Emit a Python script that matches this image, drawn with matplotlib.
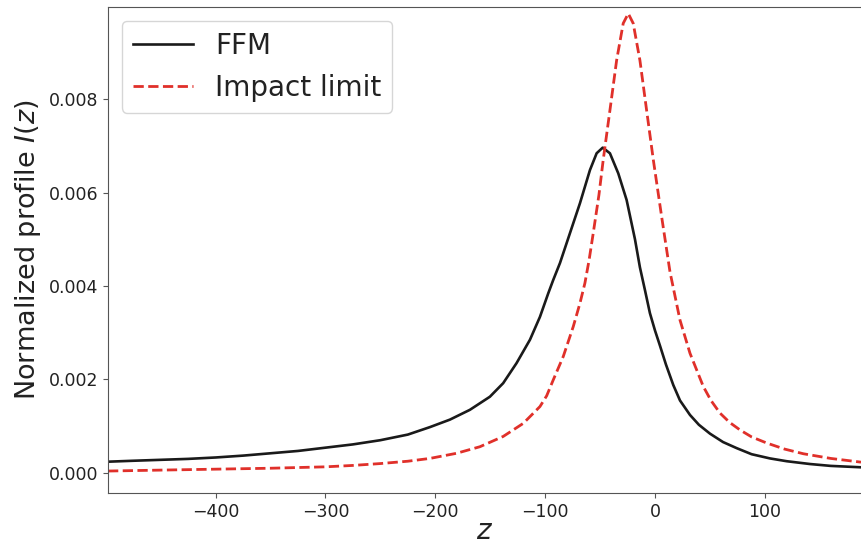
import matplotlib.pyplot as plt
import numpy as np

# values
ffm_z = [-498, -475, -450, -425, -400, -375, -350, -325, -300, -275, -250, -225,
         -204.9, -186.7, -168.5, -150.3, -138.2, -126, -113.8, -104.7, -97.2,
         -92.6, -86.5, -77.4, -68.3, -59.2, -53.1, -47.6, -41, -33.4, -25.8,
         -18.2, -13.7, -9, -4.6, 0, 4.6, 10, 16.7, 22.8, 31.9, 40, 50.1, 62,
         74.4, 88, 104.7, 120, 141.2, 160, 187.6]
ffm_I = [0.00024, 0.00026, 0.00028, 0.0003, 0.00033, 0.00037, 0.00042, 0.00047,
         0.00054, 0.00061, 0.0007, 0.00082, 0.00098, 0.00114, 0.00135, 0.00163,
         0.00192, 0.00235, 0.00285, 0.00334, 0.00384, 0.00413, 0.00449, 0.00513,
         0.00577, 0.00648, 0.00684, 0.00696, 0.00684, 0.00641, 0.00584, 0.005,
         0.0044, 0.0039, 0.00342, 0.00305, 0.00272, 0.00232, 0.00188, 0.00155,
         0.00124, 0.00103, 0.00084, 0.00066, 0.00053, 0.0004, 0.00031, 0.00025,
         0.00019, 0.00015, 0.00012]

imp_z = [-498, -450, -400, -350, -300, -275, -250, -225, -204.9, -180.6, -159.4,
         -138.2, -119.9, -104.7, -98.6, -92.6, -83.5, -74.4, -68.3, -63.8, -60,
         -56.2, -51, -47.1, -41, -34.9, -28.9, -24.3, -19.8, -13.7, -7.6, -1.5,
         6.1, 13.7, 22.8, 31.9, 44, 51, 59.2, 68, 77.4, 88, 101.7, 118, 135.1,
         160, 187.6]
imp_I = [0.00004, 0.00006, 0.00008, 0.0001, 0.00013, 0.00016, 0.0002, 0.00025,
         0.00031, 0.00042, 0.00056, 0.00078, 0.00106, 0.00142, 0.00165, 0.00199,
         0.00249, 0.00313, 0.00363, 0.00406, 0.00455, 0.00513, 0.00595, 0.0067,
         0.00776, 0.00883, 0.00962, 0.00983, 0.00962, 0.00883, 0.00776, 0.0067,
         0.00548, 0.0043, 0.00327, 0.00256, 0.00185, 0.00155, 0.00128, 0.00108,
         0.00092, 0.00077, 0.00064, 0.00051, 0.00041, 0.00031, 0.00023]

fig = plt.figure(figsize=(8.61, 5.43), dpi=100)
ax = fig.add_axes([108 / 861, 50 / 543, 753 / 861, 486 / 543])

ax.plot(ffm_z, ffm_I, color='#1a1a1a', lw=1.9, label='FFM')
ax.plot(imp_z, imp_I, color='#e0302a', lw=2.0, ls='--', label='Impact limit')

ax.set_xlim(-498, 187.6)
ax.set_ylim(-0.00043, 0.00997)
ax.set_xticks([-400, -300, -200, -100, 0, 100])
ax.set_yticks([0.0, 0.002, 0.004, 0.006, 0.008])
ax.set_yticklabels(['0.000', '0.002', '0.004', '0.006', '0.008'])

for s in ax.spines.values():
    s.set_color('#555555')
ax.spines['right'].set_visible(False)
ax.tick_params(labelsize=12.5, colors='#555555', labelcolor='#222222')

ax.set_xlabel('$z$', fontsize=20, color='#222222', labelpad=-3)
ax.set_ylabel('Normalized profile $I(z)$', fontsize=19.5, color='#222222')

ax.legend(loc='upper left', fontsize=20, handlelength=2.15, labelcolor='#222222')

fig.savefig('out.png', dpi=100)
